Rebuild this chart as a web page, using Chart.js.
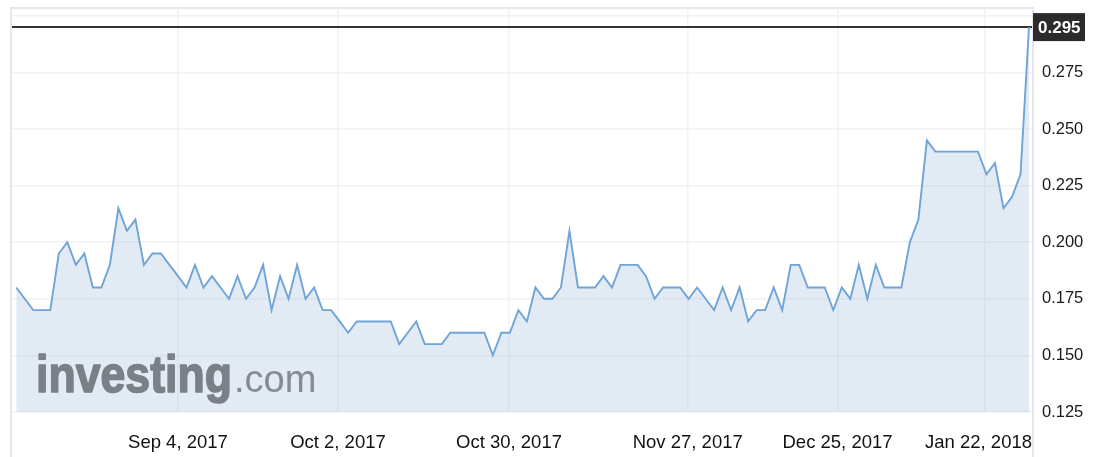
<!DOCTYPE html>
<html>
<head>
<meta charset="utf-8">
<script src="https://cdn.jsdelivr.net/npm/chart.js@4"></script>
<style>
html, body { margin: 0; padding: 0; background: #fff; }
#wrap { width: 1100px; height: 457px; }
</style>
</head>
<body>
<div id="wrap"><canvas id="myChart" width="1100" height="457"></canvas></div>
<script>
// daily closing prices
var prices = [
	0.180, 0.175, 0.170, 0.170, 0.170, 0.195, 0.200, 0.190, 0.195, 0.180,
	0.180, 0.190, 0.215, 0.205, 0.210, 0.190, 0.195, 0.195, 0.190, 0.185,
	0.180, 0.190, 0.180, 0.185, 0.180, 0.175, 0.185, 0.175, 0.180, 0.190,
	0.170, 0.185, 0.175, 0.190, 0.175, 0.180, 0.170, 0.170, 0.165, 0.160,
	0.165, 0.165, 0.165, 0.165, 0.165, 0.155, 0.160, 0.165, 0.155, 0.155,
	0.155, 0.160, 0.160, 0.160, 0.160, 0.160, 0.150, 0.160, 0.160, 0.170,
	0.165, 0.180, 0.175, 0.175, 0.180, 0.205, 0.180, 0.180, 0.180, 0.185,
	0.180, 0.190, 0.190, 0.190, 0.185, 0.175, 0.180, 0.180, 0.180, 0.175,
	0.180, 0.175, 0.170, 0.180, 0.170, 0.180, 0.165, 0.170, 0.170, 0.180,
	0.170, 0.190, 0.190, 0.180, 0.180, 0.180, 0.170, 0.180, 0.175, 0.190,
	0.175, 0.190, 0.180, 0.180, 0.180, 0.200, 0.210, 0.245, 0.240, 0.240,
	0.240, 0.240, 0.240, 0.240, 0.230, 0.235, 0.215, 0.220, 0.230, 0.295
];

// where the date ticks fall (in trading-day index) and their labels
var dateTickIndex = [19, 37.8, 57.9, 78.9, 96.5, 113.8];
var dateTickLabels = ['Sep 4, 2017', 'Oct 2, 2017', 'Oct 30, 2017', 'Nov 27, 2017', 'Dec 25, 2017', 'Jan 22, 2018'];

// price ticks on the right
var priceTicks = [0.125, 0.150, 0.175, 0.200, 0.225, 0.250, 0.275, 0.300];

var lastPrice = prices[prices.length - 1];
var FONT = '"Liberation Sans", Arial, Helvetica, sans-serif';

// frame, last price line + box, date labels, watermark
var decorPlugin = {
	id: 'decor',
	beforeDatasetsDraw: function(chart) {
		var ctx = chart.ctx, area = chart.chartArea;
		var y = Math.round(chart.scales.y.getPixelForValue(lastPrice));
		ctx.save();
		ctx.strokeStyle = '#333';
		ctx.lineWidth = 2;
		ctx.beginPath();
		ctx.moveTo(area.left, y);
		ctx.lineTo(area.right, y);
		ctx.stroke();
		ctx.restore();
	},
	afterDatasetsDraw: function(chart) {
		var ctx = chart.ctx;
		// watermark
		ctx.save();
		ctx.fillStyle = '#7b8087';
		ctx.strokeStyle = '#7b8087';
		ctx.lineWidth = 1.6;
		ctx.lineJoin = 'round';
		ctx.font = 'bold 52px ' + FONT;
		ctx.textBaseline = 'alphabetic';
		var w1 = ctx.measureText('investing').width;
		ctx.save();
		ctx.translate(36, 392);
		ctx.scale(196 / w1, 1);
		ctx.fillText('investing', 0, 0);
		ctx.strokeText('investing', 0, 0);
		ctx.restore();
		ctx.fillStyle = '#868a91';
		ctx.font = '38px ' + FONT;
		ctx.fillText('.com', 234, 392);
		ctx.restore();
	},
	afterDraw: function(chart) {
		var ctx = chart.ctx, area = chart.chartArea;
		var xs = chart.scales.x, ys = chart.scales.y;
		ctx.save();

		// light frame around the chart
		ctx.strokeStyle = '#e6e6f0';
		ctx.lineWidth = 2;
		ctx.beginPath();
		ctx.moveTo(11, 470);
		ctx.lineTo(11, 8);
		ctx.lineTo(area.right + 1, 8);
		ctx.lineTo(area.right + 1, 470);
		ctx.stroke();

		// date labels, last one kept inside the plot
		ctx.fillStyle = '#111';
		ctx.font = '18.5px ' + FONT;
		ctx.textBaseline = 'alphabetic';
		ctx.textAlign = 'left';
		for (var i = 0; i < dateTickIndex.length; i++) {
			var px = xs.getPixelForValue(dateTickIndex[i]);
			var w = ctx.measureText(dateTickLabels[i]).width;
			var left = px - w / 2;
			if (left + w > area.right) left = area.right - w;
			ctx.fillText(dateTickLabels[i], left, 448);
		}

		// last price box
		var y = ys.getPixelForValue(lastPrice);
		ctx.fillStyle = '#2b2b2b';
		ctx.fillRect(area.right + 1, y - 14, 52, 28);
		ctx.fillStyle = '#fff';
		ctx.font = 'bold 17px ' + FONT;
		ctx.textBaseline = 'middle';
		ctx.fillText(lastPrice.toFixed(3), area.right + 6, y + 1);
		ctx.restore();
	}
};

function createLine(data) {
	var ctx = document.getElementById('myChart').getContext('2d');
	var points = data.map(function(v, i) { return { x: i, y: v }; });

	var chart = new Chart(ctx, {
		type: 'line',
		data: {
			datasets: [{
				data: points,
				borderColor: '#6ea4d8',
				borderWidth: 1.9,
				backgroundColor: 'rgba(171,199,220,0.35)',
				fill: 'start',
				pointRadius: 0,
				tension: 0
			}]
		},
		options: {
			responsive: false,
			animation: false,
			layout: { padding: { left: 12, top: 9, right: 0, bottom: 0 } },
			plugins: { legend: { display: false }, tooltip: { enabled: false } },
			scales: {
				x: {
					type: 'linear',
					min: -0.5,
					max: 119.35,
					afterBuildTicks: function(s) {
						s.ticks = dateTickIndex.map(function(v) { return { value: v }; });
					},
					afterFit: function(s) {
						s.height = 45;
						s.paddingLeft = 0; s.paddingRight = 0;
					},
					grid: { color: '#f2f2f5', lineWidth: 1.5, drawTicks: false },
					border: { display: false },
					ticks: { display: false }
				},
				y: {
					position: 'right',
					min: 0.125,
					max: 0.303,
					afterBuildTicks: function(s) {
						s.ticks = priceTicks.map(function(v) { return { value: v }; });
					},
					afterFit: function(s) {
						s.width = 68;
						s.paddingTop = 0; s.paddingBottom = 0;
					},
					grid: { color: '#f2f2f5', lineWidth: 1.5, drawTicks: false },
					border: { display: false },
					ticks: {
						padding: 10,
						color: '#1a1a1a',
						font: { family: FONT, size: 16.5 },
						callback: function(v) { return v > 0.29 ? '' : v.toFixed(3); }
					}
				}
			}
		},
		plugins: [decorPlugin]
	});
	return chart;
}

createLine(prices);
</script>
</body>
</html>
